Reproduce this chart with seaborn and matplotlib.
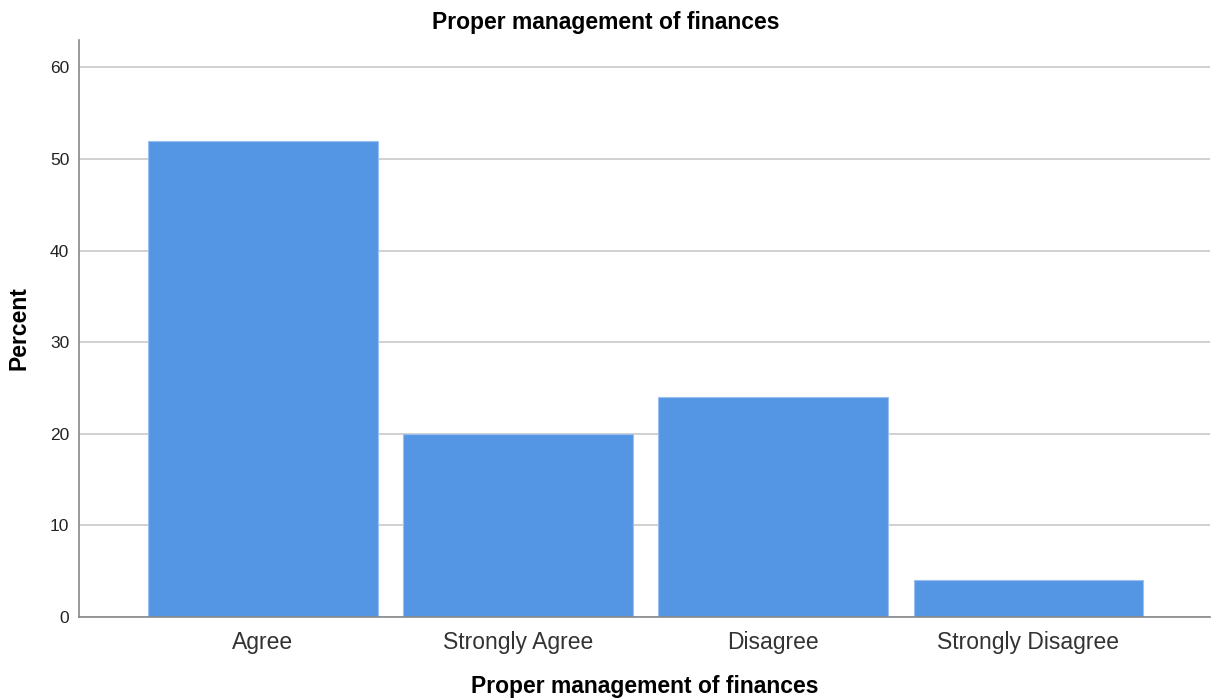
import matplotlib
matplotlib.use("Agg")
import matplotlib.pyplot as plt
import seaborn as sns
import pandas as pd

# Data
categories = ["Agree", "Strongly Agree", "Disagree", "Strongly Disagree"]
percent = [52, 20, 24, 4]

df = pd.DataFrame({"response": categories, "percent": percent})

sns.set_style("white")
plt.rcParams["font.family"] = ["Liberation Sans", "DejaVu Sans"]

fig = plt.figure(figsize=(12.12, 7), dpi=100)
ax = fig.add_axes([0.0652, 0.1186, 0.9328, 0.8244])

# gridlines behind bars
ax.set_axisbelow(True)
ax.yaxis.grid(True, color="#c8c8c8", linewidth=1.2)
ax.xaxis.grid(False)

sns.barplot(data=df, x="response", y="percent", color="#5596E4",
            saturation=1, width=0.9, edgecolor="#9cc0ee", linewidth=0.8, ax=ax)

ax.set_ylim(0, 63)
ax.set_xlim(-0.72, 3.71)
ax.set_yticks(range(0, 61, 10))

for side in ["top", "right"]:
    ax.spines[side].set_visible(False)
for side in ["left", "bottom"]:
    ax.spines[side].set_color("#888888")
    ax.spines[side].set_linewidth(1.2)

ax.tick_params(axis="both", length=0)
ax.tick_params(axis="y", labelsize=12.5, pad=7, labelcolor="#222222")
ax.tick_params(axis="x", labelsize=16.5, pad=10, labelcolor="#333333")

fig.suptitle("Proper management of finances", fontsize=16.5, fontweight="bold",
             x=0.5, y=0.984, va="top", color="black")
ax.set_xlabel("Proper management of finances", fontsize=16.5, fontweight="bold",
              labelpad=15, color="black")
ax.set_ylabel("Percent", fontsize=16.5, fontweight="bold", labelpad=14, color="black")

fig.savefig("out.png", dpi=100)
